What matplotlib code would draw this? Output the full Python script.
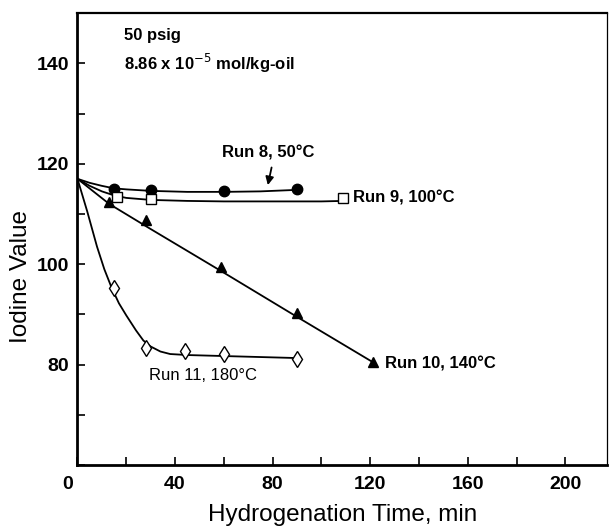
import matplotlib.pyplot as plt
import matplotlib.transforms as mtransforms
from matplotlib.ticker import MultipleLocator

plt.rcParams['font.family'] = ['Liberation Sans', 'DejaVu Sans']

run8_t = [15, 30, 60, 90]
run8_iv = [114.9, 114.7, 114.5, 114.9]
run9_t = [16, 30, 109]
run9_iv = [113.3, 112.9, 113.1]
run10_t = [13, 28, 59, 90, 121]
run10_iv = [112.3, 108.7, 99.5, 90.2, 80.5]
run11_t = [15, 28, 44, 60, 90]
run11_iv = [95.3, 83.3, 82.7, 82.2, 81.2]

# hand drawn trend curves
run8_curve_t = [0, 5, 10, 15, 20, 30, 45, 60, 75, 90]
run8_curve_iv = [117, 116.2, 115.6, 115.1, 114.9, 114.6, 114.4, 114.4, 114.5, 114.8]
run9_curve_t = [0, 5, 10, 15, 20, 30, 45, 60, 80, 100, 109]
run9_curve_iv = [117, 115.6, 114.5, 113.7, 113.2, 112.8, 112.6, 112.5, 112.5, 112.5, 112.6]
run10_curve_t = [0, 13, 30, 60, 90, 121]
run10_curve_iv = [117, 112.0, 107.0, 98.3, 89.5, 80.5]
run11_curve_t = [0, 4, 8, 11, 14, 17, 20, 24, 27, 30, 34, 38, 45, 60, 75, 90]
run11_curve_iv = [117, 110.5, 103.5, 99, 95.3, 92.2, 89.8, 86.8, 84.8, 83.6, 82.6, 82.1,
                  81.9, 81.7, 81.5, 81.3]

fig = plt.figure(figsize=(6.12, 5.26), dpi=100)
ax = fig.add_axes([0.1266, 0.116, 0.865, 0.859])

lw = 1.3
ax.plot(run8_curve_t, run8_curve_iv, 'k-', lw=lw)
ax.plot(run9_curve_t, run9_curve_iv, 'k-', lw=lw)
ax.plot(run10_curve_t, run10_curve_iv, 'k-', lw=lw)
ax.plot(run11_curve_t, run11_curve_iv, 'k-', lw=lw)

ax.plot(run8_t, run8_iv, 'o', color='k', ms=7.5, zorder=3)
ax.plot(run9_t, run9_iv, 's', mfc='white', mec='k', mew=1.0, ms=6.5, zorder=3)
ax.plot(run10_t, run10_iv, '^', color='k', ms=7.5, zorder=3)
ax.plot(run11_t, run11_iv, 'd', mfc='white', mec='k', mew=1.0, ms=8, zorder=3)

tf = dict(fontsize=12, fontweight='bold')
ax.text(78.2, 122.2, 'Run 8, 50°C', ha='center', va='center', **tf)
ax.annotate('', xy=(77.8, 115.2), xytext=(79.8, 119.8),
            arrowprops=dict(arrowstyle='-|>', color='k', lw=1.3, mutation_scale=12))
ax.text(113, 113.1, 'Run 9, 100°C', ha='left', va='center', **tf)
ax.text(126, 80.2, 'Run 10, 140°C', ha='left', va='center', **tf)
ax.text(51.5, 77.8, 'Run 11, 180°C', ha='center', va='center', fontsize=12)
ax.text(19, 145.6, '50 psig', ha='left', va='center', **tf)
ax.text(19, 140, '8.86 x 10$^{-5}$ mol/kg-oil', ha='left', va='center', **tf)

ax.set_xlim(0, 217)
ax.set_ylim(60, 150)
ax.xaxis.set_major_locator(MultipleLocator(40))
ax.xaxis.set_minor_locator(MultipleLocator(20))
ax.yaxis.set_major_locator(MultipleLocator(20))
ax.yaxis.set_minor_locator(MultipleLocator(10))
ax.set_yticks([80, 100, 120, 140])
ax.tick_params(which='both', direction='in', length=6, width=1.2,
               top=False, right=False)
ax.tick_params(which='major', labelsize=14, pad=8)
ax.tick_params(axis='y', which='major', pad=6)
for lab in ax.get_xticklabels() + ax.get_yticklabels():
    lab.set_fontweight('bold')

# the "0" label sits a little left of its tick in the original
shift = mtransforms.ScaledTranslation(-0.1, 0, fig.dpi_scale_trans)
for lab in ax.get_xticklabels():
    if lab.get_text() in ('0',):
        lab.set_transform(lab.get_transform() + shift)

ax.spines['left'].set_linewidth(2.0)
ax.spines['bottom'].set_linewidth(2.0)
ax.spines['top'].set_linewidth(1.6)
ax.spines['right'].set_linewidth(0.9)

ax.set_xlabel('Hydrogenation Time, min', fontsize=17.5, labelpad=8)
ax.set_ylabel('Iodine Value', fontsize=17.5)
ax.yaxis.set_label_coords(-0.085, 0.418)

fig.savefig('out.png', dpi=100)
